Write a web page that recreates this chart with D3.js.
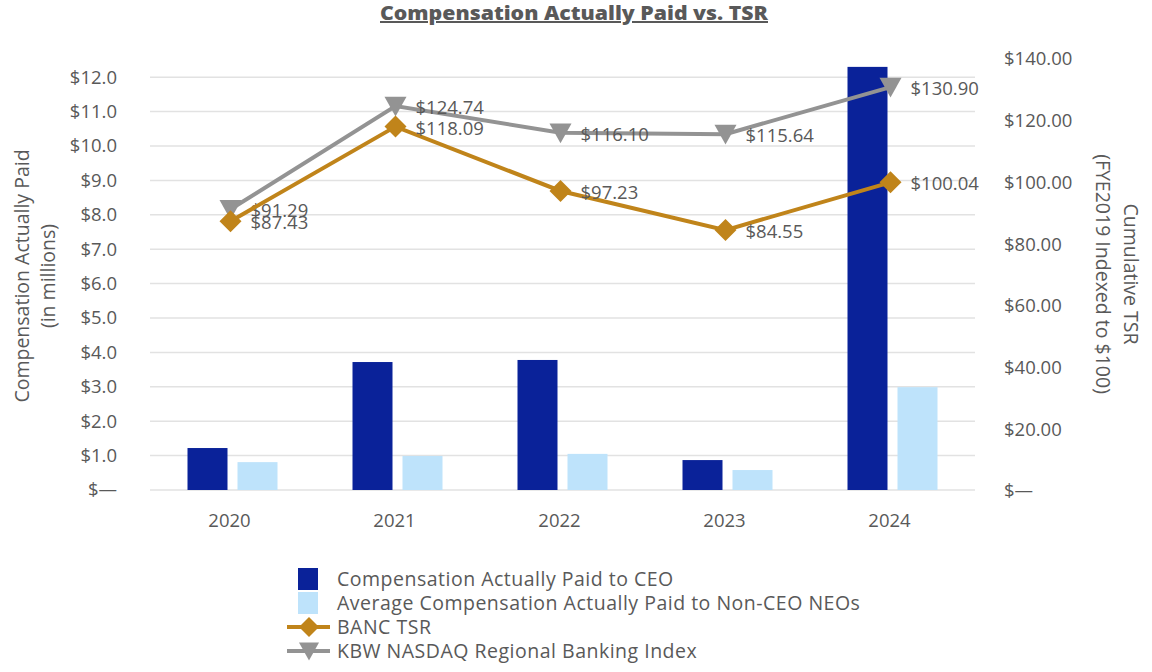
<!DOCTYPE html>
<html>
<head>
<meta charset="utf-8">
<script src="https://cdn.jsdelivr.net/npm/d3@7"></script>
<style>
  body { margin: 0; background: #fff; }
  svg { font-family: "Open Sans", "Lato", sans-serif; }
</style>
</head>
<body>
<svg id="chart" width="1152" height="672"></svg>
<script>
// data
const years = ["2020", "2021", "2022", "2023", "2024"];
const ceoPay = [1.22, 3.72, 3.78, 0.87, 12.3];
const neoPay = [0.81, 0.99, 1.05, 0.58, 2.99];
const bancTsr = [87.43, 118.09, 97.23, 84.55, 100.04];
const kbwTsr = [91.29, 124.74, 116.10, 115.64, 130.90];
const leftTicks = [0, 1, 2, 3, 4, 5, 6, 7, 8, 9, 10, 11, 12];
const rightTicks = [0, 20, 40, 60, 80, 100, 120, 140];
const legendItems = [
  { label: "Compensation Actually Paid to CEO", type: "bar", color: "#0A2299" },
  { label: "Average Compensation Actually Paid to Non-CEO NEOs", type: "bar", color: "#BEE3FB" },
  { label: "BANC TSR", type: "diamond", color: "#C0841A" },
  { label: "KBW NASDAQ Regional Banking Index", type: "triangle", color: "#939393" },
];

const TEXT = "#595959";
const FS = 18.5;      // numbers
const FS_TXT = 19.5;  // words
const PLOT = { left: 150, right: 975, top: 60, bottom: 490 };
const svg = d3.select("#chart");

const x = d3.scaleBand().domain(years).range([PLOT.left, PLOT.right]);
const yL = d3.scaleLinear().domain([0, 12.5]).range([PLOT.bottom, PLOT.top]);
const yR = d3.scaleLinear().domain([0, 140]).range([PLOT.bottom + 1, PLOT.top - 1]);
const cx = (d) => x(d) + x.bandwidth() / 2;

// title
svg.append("text")
  .attr("x", 574).attr("y", 20)
  .attr("text-anchor", "middle")
  .attr("font-size", 20).attr("font-weight", 800)
  .attr("fill", TEXT)
  .attr("text-decoration", "underline")
  .attr("textLength", 388).attr("lengthAdjust", "spacingAndGlyphs")
  .text("Compensation Actually Paid vs. TSR");

// gridlines
svg.append("g")
  .selectAll("line")
  .data(leftTicks)
  .join("line")
  .attr("x1", PLOT.left).attr("x2", PLOT.right)
  .attr("y1", (d) => yL(d)).attr("y2", (d) => yL(d))
  .attr("stroke", "#e2e2e2").attr("stroke-width", 1.5);

// left axis
const leftAxis = d3.axisLeft(yL).tickValues(leftTicks).tickSize(0).tickPadding(0)
  .tickFormat((d) => (d === 0 ? "$\u2014" : "$" + d.toFixed(1)));
const gl = svg.append("g").attr("transform", `translate(117,0)`).call(leftAxis);
gl.select(".domain").remove();
gl.selectAll("text").attr("font-size", FS).attr("fill", TEXT).attr("font-family", "Open Sans");

// right axis
const rightAxis = d3.axisRight(yR).tickValues(rightTicks).tickSize(0).tickPadding(0)
  .tickFormat((d) => (d === 0 ? "$\u2014" : "$" + d.toFixed(2)));
const gr = svg.append("g").attr("transform", `translate(1004,0)`).call(rightAxis);
gr.select(".domain").remove();
gr.selectAll("text").attr("font-size", FS).attr("fill", TEXT).attr("font-family", "Open Sans");

// axis titles
const lt = svg.append("text")
  .attr("transform", "translate(0,276) rotate(-90)")
  .attr("text-anchor", "middle").attr("font-size", FS_TXT).attr("fill", TEXT);
lt.append("tspan").attr("x", 0).attr("y", 29).text("Compensation Actually Paid");
lt.append("tspan").attr("x", 0).attr("y", 55).text("(in millions)");

const rt = svg.append("text")
  .attr("transform", "translate(1152,274) rotate(90)")
  .attr("text-anchor", "middle").attr("font-size", FS_TXT).attr("fill", TEXT);
rt.append("tspan").attr("x", 0).attr("y", 28).text("Cumulative TSR");
rt.append("tspan").attr("x", 0).attr("y", 56).text("(FYE2019 Indexed to $100)");

// x labels
svg.append("g")
  .selectAll("text")
  .data(years)
  .join("text")
  .attr("x", (d) => cx(d) - 3).attr("y", 527)
  .attr("text-anchor", "middle").attr("font-size", FS).attr("fill", TEXT)
  .text((d) => d);

// bars
const BAR_W = 40, GAP = 10;
svg.append("g")
  .selectAll("rect")
  .data(years)
  .join("rect")
  .attr("x", (d) => cx(d) - GAP / 2 - BAR_W)
  .attr("width", BAR_W)
  .attr("y", (d, i) => yL(ceoPay[i]))
  .attr("height", (d, i) => yL(0) - yL(ceoPay[i]))
  .attr("fill", "#0A2299");

svg.append("g")
  .selectAll("rect")
  .data(years)
  .join("rect")
  .attr("x", (d) => cx(d) + GAP / 2)
  .attr("width", BAR_W)
  .attr("y", (d, i) => yL(neoPay[i]))
  .attr("height", (d, i) => yL(0) - yL(neoPay[i]))
  .attr("fill", "#BEE3FB");

// lines
const diamond = (s) => `M0,${-s}L${s},0L0,${s}L${-s},0Z`;
const triangle = (s) => `M${-s},${-s * 0.85}L${s},${-s * 0.85}L0,${s * 0.95}Z`;

function drawSeries(values, color, markerPath) {
  const pts = years.map((d, i) => [cx(d) - 2, yR(values[i])]);
  svg.append("path")
    .attr("d", d3.line()(pts))
    .attr("fill", "none").attr("stroke", color).attr("stroke-width", 4);
  svg.append("g")
    .selectAll("path")
    .data(pts)
    .join("path")
    .attr("transform", (p) => `translate(${p[0]},${p[1]})`)
    .attr("d", markerPath)
    .attr("fill", color);
  svg.append("g")
    .selectAll("text")
    .data(pts)
    .join("text")
    .attr("x", (p) => p[0] + 20).attr("y", (p) => p[1] + 8)
    .attr("font-size", FS).attr("fill", TEXT)
    .text((p, i) => "$" + values[i].toFixed(2));
}
drawSeries(kbwTsr, "#939393", triangle(11));
drawSeries(bancTsr, "#C0841A", diamond(11));

// legend
const lg = svg.append("g").selectAll("g")
  .data(legendItems)
  .join("g")
  .attr("transform", (d, i) => `translate(0,${579 + i * 24})`);
lg.filter((d) => d.type === "bar").append("rect")
  .attr("x", 298).attr("y", -11).attr("width", 20).attr("height", 22)
  .attr("fill", (d) => d.color);
lg.filter((d) => d.type !== "bar").append("line")
  .attr("x1", 287).attr("x2", 330)
  .attr("stroke", (d) => d.color).attr("stroke-width", 4);
lg.filter((d) => d.type !== "bar").append("path")
  .attr("transform", "translate(309,0)")
  .attr("d", (d) => (d.type === "diamond" ? diamond(10) : triangle(10)))
  .attr("fill", (d) => d.color);
lg.append("text")
  .attr("x", 337).attr("y", 7)
  .attr("font-size", FS_TXT).attr("letter-spacing", 0.5).attr("fill", TEXT)
  .text((d) => d.label);
</script>
</body>
</html>
